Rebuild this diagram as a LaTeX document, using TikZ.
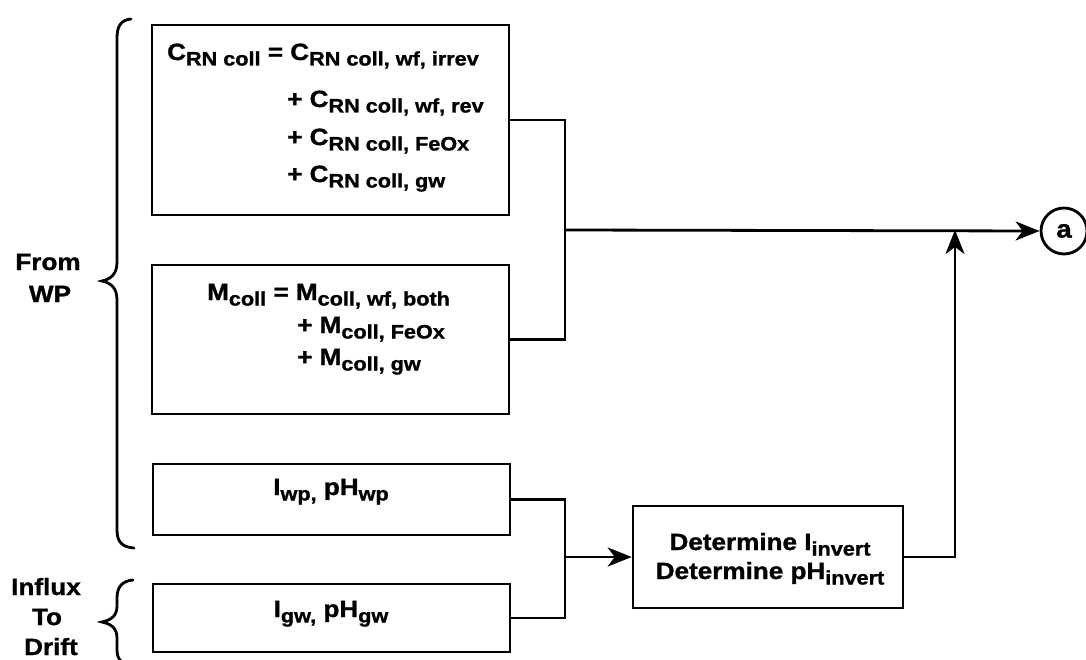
\documentclass[tikz,border=0pt]{standalone}
\usepackage{fontspec}
\setmainfont[FakeStretch=1.11, BoldFeatures={FakeBold=1.2}]{Liberation Sans}
\usetikzlibrary{arrows.meta}
\newcommand\lo[1]{\raisebox{-5.5pt}{\fontsize{19.5pt}{20pt}\selectfont #1}}
\tikzset{
  txt/.style={font=\fontsize{23.5pt}{27pt}\selectfont\bfseries, inner sep=0pt},
  boxx/.style={draw, line width=2.6pt, rectangle, inner sep=0pt},
  conn/.style={line width=2.8pt},
  arr/.style={line width=2.8pt, -{Stealth[length=24pt,width=19pt,inset=7pt]}},
  brace/.style={line width=2.8pt, line cap=round}
}
\begin{document}
\begin{tikzpicture}[x=1pt,y=-1pt]
\useasboundingbox (0,0) rectangle (1086,660);
% boxes
\node[boxx, minimum width=357pt, minimum height=190pt] (top) at (330.5,120) {};
\node[boxx, minimum width=357pt, minimum height=149pt] (mbox) at (330.5,339.5) {};
\node[boxx, minimum width=357pt, minimum height=71pt] (iwp) at (331.5,499.5) {};
\node[boxx, minimum width=357pt, minimum height=68pt] (igw) at (331.5,618) {};
\node[boxx, minimum width=270pt, minimum height=102pt] (det) at (768,557) {};
\node[draw, circle, line width=2.8pt, minimum size=46pt, inner sep=0pt, font=\fontsize{25pt}{28pt}\selectfont\bfseries] (a) at (1064,231) {a};
% texts in top box
\node[txt, anchor=base west] (t1) at (167,60) {C\lo{RN coll} = C\lo{RN coll, wf, irrev}};
\node[txt, anchor=base west] (t2) at (287,107) {+ C\lo{RN coll, wf, rev}};
\node[txt, anchor=base west] (t3) at (287,145) {+ C\lo{RN coll, FeOx}};
\node[txt, anchor=base west] (t4) at (287,182) {+ C\lo{RN coll, gw}};
% texts in M box
\node[txt, anchor=base west] (m1) at (207,300) {M\lo{coll} = M\lo{coll, wf, both}};
\node[txt, anchor=base west] (m2) at (297,333) {+ M\lo{coll, FeOx}};
\node[txt, anchor=base west] (m3) at (297,365) {+ M\lo{coll, gw}};
% I / pH boxes
\node[txt, anchor=base] (w1) at (331,495) {I\lo{wp,} pH\lo{wp}};
\node[txt, anchor=base] (g1) at (331,617) {I\lo{gw,} pH\lo{gw}};
% determine
\node[txt, anchor=base] (d1) at (770,550) {Determine I\lo{invert}};
\node[txt, anchor=base] (d2) at (770,579) {Determine pH\lo{invert}};
% left labels
\node[txt, anchor=base] (f1) at (48,270) {From};
\node[txt, anchor=base] (f2) at (50,302) {WP};
\node[txt, anchor=base] (i1) at (46,595) {Influx};
\node[txt, anchor=base] (i2) at (47,625) {To};
\node[txt, anchor=base] (i3) at (51,655) {Drift};
% braces
\draw[brace] (131,19) .. controls (121,20) and (117,26) .. (117,38) -- (117,262)
  .. controls (117,274) and (111,279) .. (102,281)
  .. controls (111,283) and (117,288) .. (117,300) -- (117,530)
  .. controls (117,542) and (122,547) .. (134,548);
\draw[brace] (133,580) .. controls (122,581) and (117,587) .. (117,598) -- (117,606)
  .. controls (117,616) and (111,620) .. (102,622)
  .. controls (111,624) and (117,628) .. (117,638) -- (117,650)
  .. controls (117,660) and (122,664) .. (133,666);
% connectors
\coordinate (j1) at (565,230);
\coordinate (j2) at (565,557);
\coordinate (j3) at (955,230);
\draw[conn] (top.east) -| (j1);
\draw[conn] (mbox.east) -| (j1);
\draw[arr] (j1) -- (a.west);
\draw[conn] (iwp.east) -| (j2);
\draw[conn] (igw.east) -| (j2);
\draw[arr] (j2) -- (det.west);
\draw[arr] (det.east) -| (j3);
\end{tikzpicture}
\end{document}
